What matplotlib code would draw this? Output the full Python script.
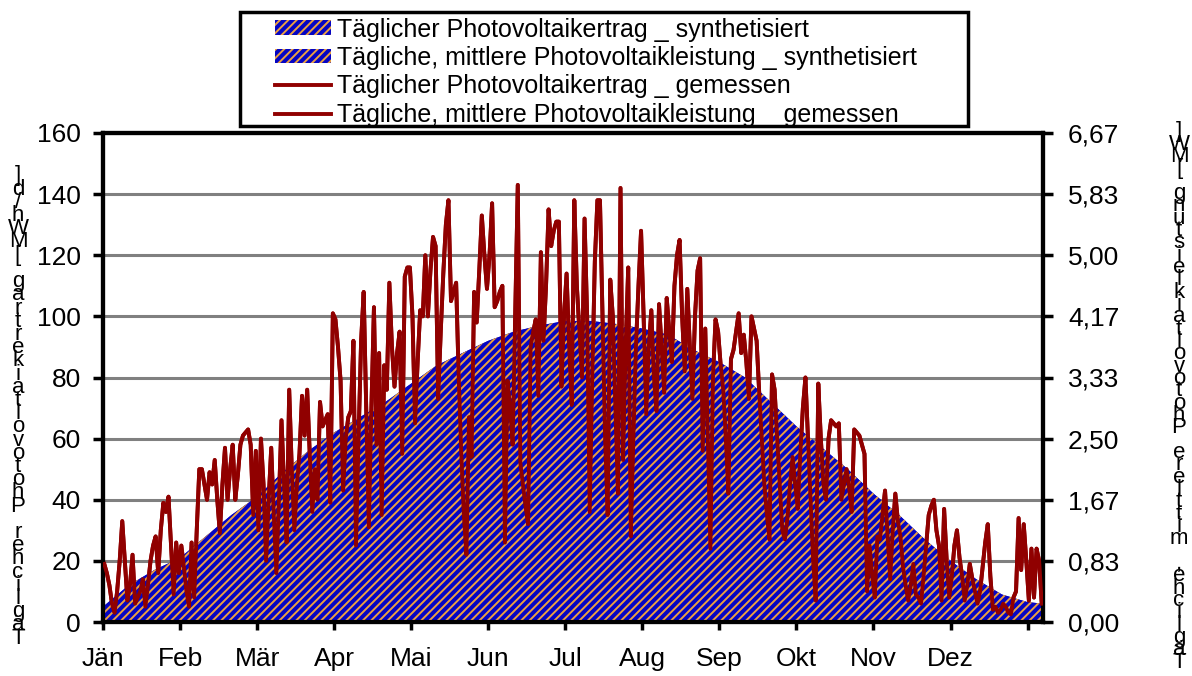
import numpy as np
import matplotlib
matplotlib.use("Agg")
from matplotlib import pyplot as plt, patches

plt.rcParams['font.family'] = ['Liberation Sans', 'DejaVu Sans']
plt.rcParams['hatch.linewidth'] = 1.4

months = ["Jän", "Feb", "Mär", "Apr", "Mai", "Jun", "Jul", "Aug", "Sep", "Okt", "Nov", "Dez"]

# synthesized daily yield [MWh/d], read every ~10 days
synth_days = [0, 10, 20, 30, 40, 50, 60, 70, 80, 90, 100, 110, 120, 130, 140, 150, 160, 170, 180,
              190, 200, 210, 220, 230, 240, 250, 260, 270, 280, 290, 300, 310, 320, 330, 340, 350, 360, 366]
synth_vals = [5, 12, 17, 21, 28, 35, 41, 49, 56, 62, 67, 72, 78, 84, 88, 92, 95, 97, 98.5,
              98.5, 97.5, 96, 94, 89, 85, 80, 72, 64, 57, 50, 42, 35, 27, 20, 14, 9, 6.5, 6]

# measured daily yield [MWh/d], one value per day
measured = [
    19, 16, 12, 6, 3, 10, 20, 33, 20, 7,
    12, 22, 6, 8, 10, 14, 5, 12, 20, 25,
    28, 16, 30, 39, 36, 41, 25, 9, 26, 16,
    25, 18, 10, 5, 26, 8, 30, 50, 50, 45,
    40, 49, 45, 53, 40, 29, 45, 57, 40, 50,
    58, 40, 48, 58, 61, 62, 63, 58, 35, 56,
    30, 60, 45, 20, 40, 57, 35, 16, 40, 66,
    45, 26, 76, 50, 30, 45, 55, 74, 61, 76,
    55, 36, 50, 40, 72, 64, 66, 68, 39, 101,
    99, 90, 79, 43, 60, 67, 69, 92, 25, 60,
    92, 108, 70, 31, 70, 103, 58, 88, 35, 84,
    76, 111, 90, 77, 88, 95, 55, 113, 116, 116,
    100, 65, 85, 102, 100, 120, 100, 115, 126, 123,
    73, 95, 114, 130, 138, 105, 108, 111, 80, 55,
    35, 22, 67, 54, 108, 98, 115, 133, 120, 109,
    120, 137, 103, 105, 108, 110, 26, 79, 70, 58,
    100, 143, 52, 45, 38, 32, 90, 95, 99, 74,
    121, 92, 110, 135, 123, 128, 131, 131, 77, 100,
    114, 90, 71, 138, 110, 95, 80, 132, 100, 36,
    80, 118, 138, 138, 100, 60, 35, 112, 100, 70,
    42, 142, 53, 90, 116, 28, 60, 90, 110, 128,
    100, 68, 90, 102, 80, 69, 104, 90, 75, 106,
    95, 85, 110, 120, 125, 100, 82, 109, 90, 73,
    100, 115, 119, 56, 96, 60, 24, 80, 99, 95,
    84, 76, 60, 42, 86, 89, 95, 101, 88, 94,
    85, 73, 100, 96, 92, 75, 60, 45, 35, 27,
    81, 76, 60, 45, 30, 27, 34, 45, 54, 45,
    37, 55, 70, 80, 60, 40, 20, 7, 78, 60,
    45, 40, 60, 66, 65, 64, 65, 40, 45, 50,
    44, 36, 63, 62, 61, 58, 55, 10, 25, 15,
    8, 28, 27, 35, 43, 28, 14, 30, 42, 33,
    28, 18, 12, 7, 12, 19, 9, 8, 6, 15,
    25, 35, 38, 40, 30, 25, 7, 37, 20, 8,
    15, 25, 30, 21, 15, 7, 12, 19, 14, 10,
    6, 10, 18, 26, 32, 15, 4, 5, 3, 4,
    6, 5, 3, 2.5, 8, 10, 34, 17, 32, 20,
    7, 24, 8, 24, 20, 6,
]

labels = ["Täglicher Photovoltaikertrag _ synthetisiert",
          "Tägliche, mittlere Photovoltaikleistung _ synthetisiert",
          "Täglicher Photovoltaikertrag _ gemessen",
          "Tägliche, mittlere Photovoltaikleistung _ gemessen"]

W, H = 1192, 676
blue = "#0505c4"
orange = "#eca040"
red = "#900000"

fig = plt.figure(figsize=(W / 100, H / 100), dpi=100)
ax = fig.add_axes([103 / W, 1 - 622 / H, 940 / W, 489 / H])

x = np.arange(len(measured)) + 0.5
meas = np.array(measured, dtype=float)
syn = np.array(synth_vals, dtype=float)

ymax = 160
area1 = ax.fill_between(synth_days, syn, facecolor=blue, edgecolor=orange, hatch="////", linewidth=0, zorder=2)
line1, = ax.plot(x, meas, color=red, lw=2.8, zorder=3)

ax2 = ax.twinx()
area2 = ax2.fill_between(synth_days, syn / 24, facecolor=blue, edgecolor=orange, hatch="////", linewidth=0, zorder=2)
line2, = ax2.plot(x, meas / 24, color=red, lw=2.8, zorder=3)

ax.set_xlim(0, 366)
ax.set_ylim(0, ymax)
ax2.set_ylim(0, ymax / 24)

ax.set_xticks(np.arange(0, 361, 30))
ax.set_xticklabels(months + [""])
ax.set_yticks(np.arange(0, 161, 20))
ax.yaxis.grid(True, color="#808080", lw=2.2)
ax.set_axisbelow(True)

r_ticks = np.arange(9) * 20 / 24
ax2.set_yticks(r_ticks)
ax2.set_yticklabels([f"{v:.2f}".replace(".", ",") for v in r_ticks])

for a in (ax, ax2):
    for s in a.spines.values():
        s.set_linewidth(3)
        s.set_color("black")
ax.tick_params(axis="x", length=6, width=2.5, direction="out", labelsize=19, pad=12)
ax.tick_params(axis="y", length=7, width=2.5, direction="out", labelsize=19, pad=9)
ax2.tick_params(axis="y", length=7, width=2.5, direction="out", labelsize=19, pad=11)

# legend box
fig.patches.append(patches.Rectangle((240 / W, 1 - 126 / H), 728 / W, 114 / H, transform=fig.transFigure,
                                     facecolor="white", edgecolor="black", lw=2.5, zorder=4))
leg = fig.legend([area1, area2, line1, line2], labels, loc="upper left",
                 bbox_to_anchor=(272 / W, 1 - 15 / H), frameon=False, fontsize=18,
                 handlelength=2.25, handleheight=0.52, handletextpad=0.25, labelspacing=0.18,
                 borderpad=0.1, borderaxespad=0)
leg.set_zorder(5)


def stacked_label(text, xpix, ytop, ybot):
    # upright letters stacked top to bottom, as the reference shows them
    chars = list(reversed(text))
    ys = np.linspace(ytop, ybot, len(chars))
    for c, y in zip(chars, ys):
        fig.text(xpix / W, 1 - y / H, c, ha="center", va="center", fontsize=16)


stacked_label("Täglicher Photovoltaikertrag [MWh/d]", 18, 176, 638)
stacked_label("Tägliche, mittlere Photovoltaikleistung [MW]", 1179, 132, 662)

fig.savefig("out.png", dpi=100)
